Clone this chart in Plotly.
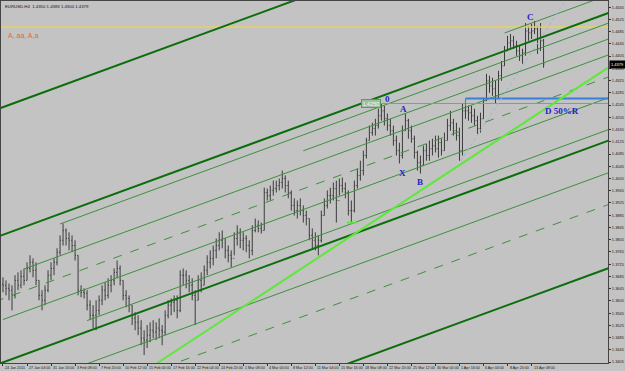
import plotly.graph_objects as go

# ---------------- data (EURUSD, H4, each bar below = 2 H4 periods) ----------------
bar_high = [1.3682,1.3672,1.3662,1.3656,1.3689,1.3698,1.3705,1.3711,1.3731,1.3754,
            1.3744,1.3731,1.3672,1.3640,1.3656,1.3705,1.3731,1.3744,1.3777,1.3819,
            1.3858,1.3842,1.3829,1.3819,1.3803,1.3754,1.3656,1.3646,1.3640,1.3607,
            1.3591,1.3607,1.3623,1.3656,1.3666,1.3679,1.3689,1.3711,1.3737,1.3721,
            1.3672,1.3640,1.3623,1.3591,1.3568,1.3558,1.3542,1.3509,1.3526,1.3535,
            1.3542,1.3535,1.3548,1.3526,1.3574,1.3607,1.3613,1.3623,1.3623,1.3705,
            1.3711,1.3705,1.3689,1.3679,1.3640,1.3689,1.3698,1.3721,1.3754,1.3770,
            1.3786,1.3809,1.3829,1.3835,1.3809,1.3786,1.3770,1.3829,1.3852,1.3842,
            1.3829,1.3819,1.3803,1.3852,1.3874,1.3868,1.3861,1.3975,1.3972,1.3982,
            1.3998,1.3998,1.4005,1.4031,1.4015,1.3998,1.3966,1.3940,1.3933,1.3940,
            1.3917,1.3900,1.3874,1.3842,1.3829,1.3819,1.3900,1.3940,1.3966,1.3975,
            1.3992,1.3998,1.4005,1.4008,1.3992,1.3966,1.3933,1.3998,1.4037,1.4063,
            1.4096,1.4138,1.4178,1.4187,1.4200,1.4233,1.4249,1.4243,1.4217,1.4200,
            1.4178,1.4145,1.4122,1.4178,1.4217,1.4200,1.4178,1.4145,1.4096,1.4080,
            1.4112,1.4119,1.4129,1.4135,1.4145,1.4145,1.4135,1.4155,1.4200,1.4226,
            1.4200,1.4187,1.4171,1.4249,1.4249,1.4243,1.4243,1.4233,1.4210,1.4220,
            1.4269,1.4347,1.4341,1.4334,1.4324,1.4357,1.4389,1.4438,1.4471,1.4477,
            1.4471,1.4455,1.4438,1.4429,1.4513,1.4503,1.4510,1.4520,1.4503,1.4513,
            1.4461]
bar_low = [1.3633,1.3623,1.3607,1.3574,1.3613,1.3640,1.3646,1.3656,1.3672,1.3698,
           1.3682,1.3656,1.3607,1.3574,1.3591,1.3633,1.3672,1.3689,1.3721,1.3754,
           1.3786,1.3786,1.3770,1.3764,1.3737,1.3623,1.3617,1.3613,1.3574,1.3542,
           1.3516,1.3509,1.3558,1.3591,1.3607,1.3613,1.3633,1.3656,1.3679,1.3656,
           1.3607,1.3584,1.3568,1.3526,1.3509,1.3493,1.3460,1.3428,1.3451,1.3470,
           1.3483,1.3477,1.3483,1.3460,1.3493,1.3548,1.3558,1.3568,1.3548,1.3568,
           1.3656,1.3646,1.3633,1.3607,1.3526,1.3607,1.3633,1.3656,1.3689,1.3711,
           1.3721,1.3744,1.3770,1.3777,1.3744,1.3731,1.3715,1.3754,1.3786,1.3777,
           1.3770,1.3764,1.3744,1.3754,1.3829,1.3829,1.3825,1.3835,1.3933,1.3933,
           1.3949,1.3959,1.3966,1.3972,1.3959,1.3940,1.3900,1.3884,1.3874,1.3884,
           1.3861,1.3852,1.3803,1.3777,1.3770,1.3754,1.3796,1.3884,1.3907,1.3923,
           1.3933,1.3861,1.3949,1.3959,1.3940,1.3884,1.3858,1.3894,1.3972,1.3998,
           1.4015,1.4070,1.4129,1.4145,1.4145,1.4168,1.4194,1.4178,1.4161,1.4145,
           1.4112,1.4080,1.4054,1.4070,1.4161,1.4135,1.4122,1.4070,1.4031,1.4021,
           1.4047,1.4063,1.4063,1.4080,1.4090,1.4073,1.4080,1.4096,1.4129,1.4161,
           1.4145,1.4129,1.4063,1.4080,1.4200,1.4194,1.4187,1.4178,1.4151,1.4155,
           1.4200,1.4259,1.4285,1.4275,1.4249,1.4266,1.4324,1.4373,1.4422,1.4432,
           1.4429,1.4406,1.4389,1.4380,1.4406,1.4455,1.4461,1.4477,1.4412,1.4422,
           1.4367]
bar_close = [1.3656,1.3646,1.3640,1.3623,1.3672,1.3656,1.3685,1.3672,1.3711,1.3731,
             1.3705,1.3672,1.3623,1.3607,1.3640,1.3689,1.3711,1.3731,1.3764,1.3803,
             1.3835,1.3809,1.3803,1.3786,1.3754,1.3640,1.3633,1.3630,1.3591,1.3558,
             1.3558,1.3574,1.3607,1.3640,1.3623,1.3656,1.3672,1.3698,1.3711,1.3672,
             1.3623,1.3613,1.3591,1.3548,1.3535,1.3516,1.3483,1.3477,1.3493,1.3509,
             1.3503,1.3516,1.3509,1.3503,1.3558,1.3591,1.3600,1.3607,1.3574,1.3689,
             1.3689,1.3672,1.3656,1.3623,1.3607,1.3672,1.3656,1.3705,1.3731,1.3744,
             1.3770,1.3786,1.3803,1.3809,1.3770,1.3754,1.3744,1.3809,1.3829,1.3803,
             1.3809,1.3786,1.3770,1.3835,1.3852,1.3842,1.3835,1.3959,1.3949,1.3966,
             1.3972,1.3982,1.3992,1.4005,1.3982,1.3959,1.3917,1.3900,1.3917,1.3900,
             1.3884,1.3874,1.3819,1.3803,1.3786,1.3803,1.3884,1.3917,1.3949,1.3949,
             1.3972,1.3933,1.3982,1.3972,1.3959,1.3900,1.3900,1.3982,1.4015,1.4031,
             1.4080,1.4129,1.4155,1.4168,1.4178,1.4210,1.4226,1.4200,1.4178,1.4161,
             1.4129,1.4096,1.4080,1.4161,1.4194,1.4161,1.4135,1.4090,1.4057,1.4047,
             1.4096,1.4080,1.4102,1.4112,1.4102,1.4122,1.4096,1.4129,1.4178,1.4187,
             1.4161,1.4145,1.4096,1.4226,1.4226,1.4220,1.4210,1.4194,1.4168,1.4200,
             1.4259,1.4324,1.4308,1.4298,1.4275,1.4341,1.4373,1.4422,1.4448,1.4455,
             1.4438,1.4422,1.4406,1.4416,1.4487,1.4481,1.4487,1.4494,1.4429,1.4455,
             1.4379]
first_open = 1.3660

x_tick_labels = ["24 Jan 2011", "27 Jan 04:00", "31 Jan 16:00", "3 Feb 08:00", "7 Feb 20:00",
                 "10 Feb 12:00", "15 Feb 00:00", "17 Feb 16:00", "22 Feb 04:00", "24 Feb 20:00",
                 "1 Mar 08:00", "4 Mar 00:00", "8 Mar 12:00", "11 Mar 04:00", "15 Mar 16:00",
                 "18 Mar 08:00", "22 Mar 20:00", "25 Mar 12:00", "30 Mar 00:00", "1 Apr 16:00",
                 "6 Apr 04:00", "8 Apr 20:00", "13 Apr 08:00"]
bars_per_label = 8
y_tick_values = [round(1.4565 - 0.0040 * k, 4) for k in range(30)]

# channel (anchor bars and prices of the base line)
chan_bars = [0, 200]
chan_base = [1.3821, 1.4540]
chan_width = 0.0417
thick_offsets = [1, 0, -1, -2]                      # in channel widths
thin_offsets = [0.0033, 0.0085, 0.0137, 0.0277, 0.0381, 0.0522, -0.0059]
thin_starts = [19, 100, 7, 0, 28, 0, 167]
dash_offsets = [0.0209, 0.0626]

trend_bars = [51.4, 201.5]
trend_prices = [1.3402, 1.4367]
dotted_bars = [152.4, 187.2]
dotted_prices = [1.4063, 1.4585]
yellow_level = 1.4500
blue_level = 1.4266
blue_start = 154
green_level = 1.4250
green_start = 126
marker_bars = [114.5, 118]
marker_price = 1.3861

wave_labels = ["0", "A", "X", "B", "C", "D 50%R"]
wave_bars = [126.4, 133.5, 132.9, 138.8, 175.6, 179.9]
wave_prices = [1.4266, 1.4232, 1.4022, 1.3993, 1.4532, 1.4226]
title_text = "EURUSD,H4  1.4350 1.4383 1.4300 1.4379"
last_price = 1.4379

X_MIN, X_MAX = -0.663, 201.46
Y_MIN, Y_MAX = 1.3402, 1.4585

bar_open = [first_open] + bar_close[:-1]
idx = list(range(len(bar_close)))

def base(i):
    return chan_base[0] + (chan_base[1] - chan_base[0]) * (i - chan_bars[0]) / (chan_bars[1] - chan_bars[0])

fig = go.Figure()

DARK = "#0b6e0b"
THIN = "#3f8f3f"

def add_line(xs, ys, color, width, dash="solid"):
    fig.add_trace(go.Scatter(x=xs, y=ys, mode="lines", line=dict(color=color, width=width, dash=dash),
                             hoverinfo="skip", showlegend=False))

xe = X_MAX + 2
add_line([X_MIN - 2, xe], [yellow_level, yellow_level], "#e6d064", 1.6)
for off, st in zip(thin_offsets, thin_starts):
    add_line([st, xe], [base(st) - off, base(xe) - off], THIN, 1)
for off in dash_offsets:
    add_line([X_MIN - 2, xe], [base(X_MIN - 2) - off, base(xe) - off], THIN, 1, "dash")
add_line([green_start, xe], [green_level, green_level], "#4fc34f", 1)
add_line([blue_start, xe], [blue_level, blue_level], "#3b7fd6", 2)
add_line([blue_start, blue_start], [blue_level, green_level - 0.0008], "#3b7fd6", 1)
add_line(dotted_bars, dotted_prices, "#9fb5d6", 1, "dot")

fig.add_trace(go.Ohlc(x=idx, open=bar_open, high=bar_high, low=bar_low, close=bar_close,
                      increasing=dict(line=dict(color="#3c3c3c", width=1)),
                      decreasing=dict(line=dict(color="#3c3c3c", width=1)),
                      tickwidth=0.3, hoverinfo="skip", showlegend=False))

for k in thick_offsets:
    add_line([X_MIN - 2, xe], [base(X_MIN - 2) + k * chan_width, base(xe) + k * chan_width], DARK, 2)
add_line(trend_bars, trend_prices, "#5ee83a", 2)
add_line(marker_bars, [marker_price, marker_price], "#5ee83a", 2)

for t, xb, p in zip(wave_labels, wave_bars, wave_prices):
    fig.add_annotation(x=xb, y=p, text="<b>%s</b>" % t, showarrow=False,
                       xanchor="left" if t in ("0", "D 50%R") else "center",
                       font=dict(family="Liberation Serif", size=9, color="#2323c8"))

fig.add_annotation(x=green_start, y=green_level, text="%.4f" % green_level, showarrow=False,
                   xanchor="right", yanchor="middle", font=dict(family="Liberation Sans", size=5.5, color="#f2fbf2"),
                   bordercolor="#4fa34f", borderwidth=1, borderpad=0.5, bgcolor="#a3bda3")

for k, lab in enumerate(x_tick_labels):
    fig.add_annotation(x=k * bars_per_label, y=0, yref="paper", text=lab, showarrow=False,
                       xanchor="left", yanchor="top", yshift=-1, xshift=0,
                       font=dict(family="Liberation Sans", size=3.7, color="#1a1a1a"))

fig.add_annotation(x=0.003, y=0.997, xref="paper", yref="paper", text=title_text, showarrow=False,
                   xanchor="left", yanchor="top", font=dict(family="Liberation Sans", size=4.3, color="#111111"))
fig.add_annotation(x=0.008, y=yellow_level - 0.0027, xref="paper", text="A, aa, A,a", showarrow=False,
                   xanchor="left", yanchor="middle", font=dict(family="Liberation Sans", size=7, color="#e8643c"))
fig.add_annotation(x=1.0, y=last_price, xref="paper", text="%.4f" % last_price, showarrow=False,
                   xanchor="left", yanchor="middle", xshift=1,
                   font=dict(family="Liberation Sans", size=4, color="#ffffff"), bgcolor="#000000", borderpad=1)

fig.update_layout(
    width=625, height=371,
    margin=dict(l=0, r=15, t=0, b=8),
    paper_bgcolor="#c3c3c3", plot_bgcolor="#c3c3c3",
    showlegend=False,
    xaxis=dict(range=[X_MIN, X_MAX], showgrid=False, zeroline=False, rangeslider=dict(visible=False),
               tickvals=[k * bars_per_label for k in range(len(x_tick_labels))], showticklabels=False,
               ticks="outside", ticklen=2, tickcolor="#333333",
               showline=True, mirror=True, linecolor="#444444", linewidth=1),
    yaxis=dict(range=[Y_MIN, Y_MAX], side="right", showgrid=False, zeroline=False,
               tickvals=y_tick_values, ticktext=["%.4f" % v for v in y_tick_values],
               ticks="outside", ticklen=2, tickcolor="#333333",
               tickfont=dict(family="Liberation Sans", size=4, color="#1a1a1a"),
               showline=True, mirror=True, linecolor="#444444", linewidth=1),
)

fig.write_html("out.html")
